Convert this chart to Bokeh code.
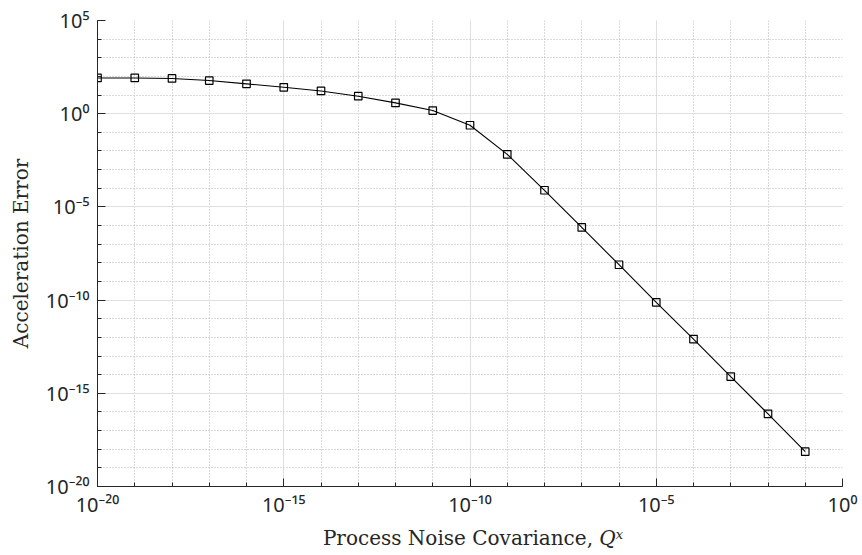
from bokeh.plotting import figure
from bokeh.models import FixedTicker, Div
from bokeh.layouts import column
from bokeh.embed import file_html
from bokeh.resources import INLINE

# Process noise covariance sweep and the resulting acceleration error
process_noise = [1e-20, 1e-19, 1e-18, 1e-17, 1e-16, 1e-15, 1e-14, 1e-13, 1e-12, 1e-11,
                 1e-10, 1e-9, 1e-8, 1e-7, 1e-6, 1e-5, 1e-4, 1e-3, 1e-2, 1e-1]
accel_error = [83, 83, 78, 60, 40, 26, 16.6, 8.7, 3.8, 1.48,
               0.24, 6.6e-3, 7.8e-5, 7.9e-7, 7.9e-9, 7.6e-11, 8.1e-13, 7.8e-15, 7.9e-17, 7.4e-19]

# decade exponents for labelled ticks and for the minor grid
x_tick_exponents = [-20, -15, -10, -5, 0]
y_tick_exponents = [-20, -15, -10, -5, 0, 5]
x_minor_exponents = list(range(-20, 1))
y_minor_exponents = list(range(-20, 6))

SUP = str.maketrans("-0123456789", "⁻⁰¹²³⁴⁵⁶⁷⁸⁹")


def power_label(e):
    return "10" + str(e).translate(SUP)


p = figure(width=862, height=520, x_axis_type="log", y_axis_type="log",
           x_range=(1e-20, 1e0), y_range=(1e-20, 1e5),
           output_backend="svg", toolbar_location=None,
           min_border_left=97, min_border_right=20,
           min_border_top=20, min_border_bottom=34)
p.outline_line_color = None
p.background_fill_color = "white"
p.border_fill_color = "white"

p.xaxis.ticker = FixedTicker(ticks=[10.0 ** e for e in x_tick_exponents],
                             minor_ticks=[10.0 ** e for e in x_minor_exponents])
p.yaxis.ticker = FixedTicker(ticks=[10.0 ** e for e in y_tick_exponents],
                             minor_ticks=[10.0 ** e for e in y_minor_exponents])
p.xaxis.major_label_overrides = {10.0 ** e: power_label(e) for e in x_tick_exponents}
p.yaxis.major_label_overrides = {10.0 ** e: power_label(e) for e in y_tick_exponents}

for ax in (p.xaxis, p.yaxis):
    ax.axis_line_color = "#262626"
    ax.axis_line_width = 1
    ax.major_tick_line_color = "#262626"
    ax.minor_tick_line_color = "#262626"
    ax.major_tick_in = 8
    ax.major_tick_out = 0
    ax.minor_tick_in = 4
    ax.minor_tick_out = 0
    ax.major_label_text_font = "Noto Sans"
    ax.major_label_text_font_size = "20px"
    ax.major_label_text_color = "#262626"

p.xaxis.major_label_standoff = 4
p.yaxis.major_label_standoff = 8

p.yaxis.axis_label = "Acceleration Error"
p.yaxis.axis_label_text_font = "DejaVu Serif"
p.yaxis.axis_label_text_font_size = "20px"
p.yaxis.axis_label_text_font_style = "normal"
p.yaxis.axis_label_text_color = "#262626"
p.yaxis.axis_label_standoff = 10

for g in (p.xgrid, p.ygrid):
    g.grid_line_color = "#dfdfdf"
    g.grid_line_width = 1
    g.minor_grid_line_color = "#b5b5b5"
    g.minor_grid_line_dash = "1 2"
    g.minor_grid_line_width = 1

p.line(process_noise, accel_error, line_color="black", line_width=1.1)
p.scatter(process_noise, accel_error, marker="square", size=7.5,
          fill_color=None, line_color="black", line_width=1.2)

# x-axis title with an italic Q and superscript x
x_title = Div(
    text='Process Noise Covariance, <i>Q</i><sup style="font-size:13px;'
         'vertical-align:0.5em;line-height:0"><i>x</i></sup>',
    width=862, height=35,
    styles={"text-align": "center", "font-family": "DejaVu Serif",
            "font-size": "20px", "line-height": "20px", "color": "#262626",
            "padding-left": "74px", "padding-top": "3px",
            "box-sizing": "border-box"},
)

layout = column(p, x_title, spacing=0)
open("out.html", "w").write(file_html(layout, INLINE))
